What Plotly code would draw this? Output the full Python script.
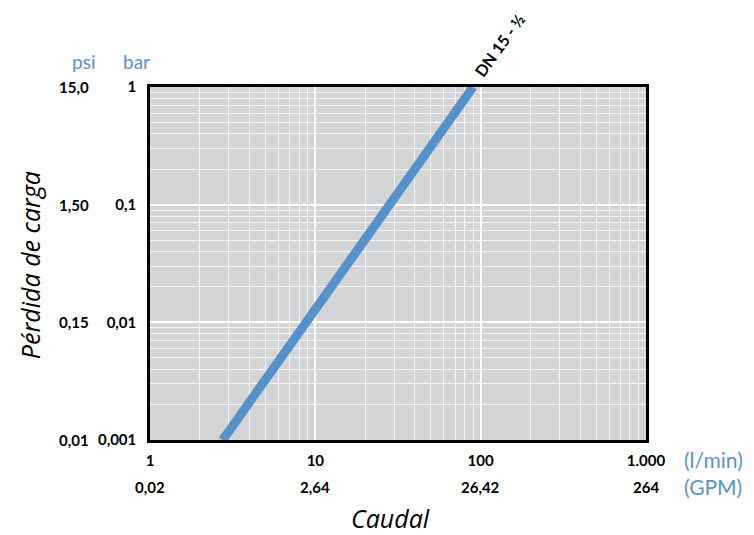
import math
import plotly.graph_objects as go

# Data
flow_lmin = [2.75, 90.0]         # l/min
pressure_bar = [0.001, 1.0]      # bar
series_name = "DN 15 - ½"

x_tickvals = [1, 10, 100, 1000]
x_ticktext = ["1", "10", "100", "1.000"]
gpm_ticktext = ["0,02", "2,64", "26,42", "264"]

y_tickvals = [0.001, 0.01, 0.1, 1]
y_ticktext = ["0,001", "0,01", "0,1", "1"]
psi_ticktext = ["0,01", "0,15", "1,50", "15,0"]

FONT = "Lato"
TFONT = "Open Sans"
BLUE = "#5591cb"
LABEL_BLUE = "#5a93cc"

minor_x = [m * 10 ** k for k in range(0, 3) for m in range(2, 10)]
minor_y = [m * 10.0 ** k for k in range(-3, 0) for m in range(2, 10)]

fig = go.Figure()
fig.add_trace(go.Scatter(
    x=flow_lmin, y=pressure_bar, mode="lines",
    line=dict(color=BLUE, width=9), name=series_name,
    showlegend=False, cliponaxis=True,
))

fig.update_layout(
    width=754, height=535,
    margin=dict(l=142, r=116, t=79, b=103),
    paper_bgcolor="white", plot_bgcolor="#d3d4d6",
    font=dict(family=FONT, size=14, color="black"),
    showlegend=False,
)

fig.update_xaxes(
    type="log", range=[0, 3],
    tickvals=x_tickvals, ticktext=x_ticktext,
    tickfont=dict(family=FONT, size=15, color="black", weight="bold"),
    ticks="", ticklabelstandoff=5,
    showgrid=True, gridcolor="white", gridwidth=1.5,
    minor=dict(tickvals=minor_x, showgrid=True, gridcolor="#f4f4f4", gridwidth=1.3, ticks=""),
    showline=True, linecolor="black", linewidth=2.5, mirror=True,
    zeroline=False,
)
fig.update_yaxes(
    type="log", range=[-3, 0],
    tickvals=y_tickvals, ticktext=y_ticktext,
    tickfont=dict(family=FONT, size=15, color="black", weight="bold"),
    ticks="", ticklabelstandoff=8,
    showgrid=True, gridcolor="white", gridwidth=1.5,
    minor=dict(tickvals=minor_y, showgrid=True, gridcolor="#f4f4f4", gridwidth=1.3, ticks=""),
    showline=True, linecolor="black", linewidth=2.5, mirror=True,
    zeroline=False,
)

bold = dict(family=FONT, size=15, color="black", weight="bold")
ann = []
# psi column
for v, t in zip(y_tickvals, psi_ticktext):
    ann.append(dict(x=-0.118, xref="paper", y=math.log10(v), yref="y", text=t, showarrow=False,
                    xanchor="right", yanchor="middle", font=bold))
# GPM row
for v, t in zip(x_tickvals, gpm_ticktext):
    ann.append(dict(x=math.log10(v), xref="x", y=-0.132, yref="paper", text=t, showarrow=False,
                    xanchor="center", yanchor="middle", font=bold))
# unit headers
hdr = dict(family=FONT, size=19, color=LABEL_BLUE)
unit = dict(family=FONT, size=21, color=LABEL_BLUE)
ann.append(dict(x=-0.134, xref="paper", y=1.073, yref="paper", text="psi", showarrow=False,
                xanchor="center", yanchor="middle", font=hdr))
ann.append(dict(x=-0.028, xref="paper", y=1.073, yref="paper", text="bar", showarrow=False,
                xanchor="center", yanchor="middle", font=hdr))
ann.append(dict(x=1.136, xref="paper", y=-0.056, yref="paper", text="(l/min)", showarrow=False,
                xanchor="center", yanchor="middle", font=unit))
ann.append(dict(x=1.136, xref="paper", y=-0.132, yref="paper", text="(GPM)", showarrow=False,
                xanchor="center", yanchor="middle", font=unit))
# axis titles
ttl = dict(family=TFONT, size=25, color="black")
ann.append(dict(x=-0.2415, xref="paper", y=0.496, yref="paper", text="<i>Pérdida de carga</i>",
                showarrow=False, textangle=-90, xanchor="center", yanchor="middle", font=ttl))
ann.append(dict(x=0.485, xref="paper", y=-0.222, yref="paper", text="<i>Caudal</i>",
                showarrow=False, xanchor="center", yanchor="middle", font=ttl))
# series label
ann.append(dict(x=math.log10(flow_lmin[-1]), xref="x", y=math.log10(pressure_bar[-1]), yref="y",
                text=series_name, showarrow=False, textangle=-54,
                xanchor="left", yanchor="bottom", xshift=-6, yshift=4,
                font=dict(family=FONT, size=16, color="black", weight="bold")))

fig.update_layout(annotations=ann)
fig.write_html("out.html")
